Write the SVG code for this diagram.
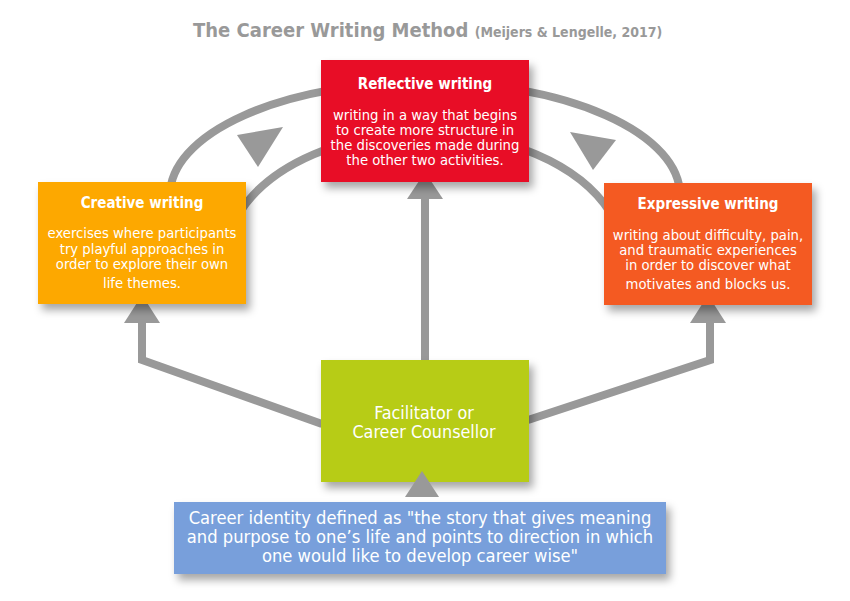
<svg xmlns="http://www.w3.org/2000/svg" width="850" height="601" viewBox="0 0 850 601">
<defs>
<filter id="sh" x="-20%" y="-20%" width="150%" height="160%">
<feDropShadow dx="4" dy="6" stdDeviation="4" flood-color="#000" flood-opacity="0.35"/>
</filter>
<style>
.ln{fill:none;stroke:#999;stroke-width:8}
.ah{fill:#999}
.t{font-family:"DejaVu Sans Condensed","DejaVu Sans",sans-serif;fill:#fff;text-anchor:middle}
.h{font-weight:bold;font-size:15px}
.b{font-size:14.7px}
.c{font-size:17.8px}
.d{font-size:18.2px}
.title{font-family:"DejaVu Sans Condensed","DejaVu Sans",sans-serif;font-weight:bold;fill:#999}
</style>
</defs>
<rect width="850" height="601" fill="#fff"/>
<text class="title" x="193" y="37" font-size="20">The Career Writing Method <tspan font-size="14">(Meijers &amp; Lengelle, 2017)</tspan></text>
<g id="connectors">
<path class="ln" d="M170,195 A255 113 0 0 1 680,195"/>
<path class="ln" d="M240,212 A200 128 0 0 1 610,212"/>
<polygon class="ah" points="237,135 283,127 258,167"/>
<polygon class="ah" points="570,132 616,140 593,170"/>
<line class="ln" x1="425" y1="362" x2="425" y2="195"/>
<polygon class="ah" points="425,172 443,199 407,199"/>
<polyline class="ln" points="322,424 142,360 142,320"/>
<polygon class="ah" points="142,295 160,323 124,323"/>
<polyline class="ln" points="528,420 710,360 710,320"/>
<polygon class="ah" points="708,295 726,323 690,323"/>
</g>
<g id="reflective">
<rect x="321" y="60" width="208" height="122" fill="#E80E25" filter="url(#sh)"/>
<text class="t h" x="425" y="89">Reflective writing</text>
<text class="t b" x="425" y="120">writing in a way that begins</text>
<text class="t b" x="425" y="135">to create more structure in</text>
<text class="t b" x="425" y="150">the discoveries made during</text>
<text class="t b" x="425" y="165">the other two activities.</text>
</g>
<g id="creative">
<rect x="38" y="182" width="208" height="122" fill="#FDA800" filter="url(#sh)"/>
<text class="t h" x="142" y="208">Creative writing</text>
<text class="t b" x="142" y="238">exercises where participants</text>
<text class="t b" x="142" y="254">try playful approaches in</text>
<text class="t b" x="142" y="269">order to explore their own</text>
<text class="t b" x="142" y="288">life themes.</text>
</g>
<g id="expressive">
<rect x="604" y="183" width="208" height="122" fill="#F45A21" filter="url(#sh)"/>
<text class="t h" x="708" y="209">Expressive writing</text>
<text class="t b" x="708" y="240">writing about difficulty, pain,</text>
<text class="t b" x="708" y="255">and traumatic experiences</text>
<text class="t b" x="708" y="270">in order to discover what</text>
<text class="t b" x="708" y="289">motivates and blocks us.</text>
</g>
<g id="facilitator">
<rect x="321" y="360" width="208" height="122" fill="#B7CC19" filter="url(#sh)"/>
<text class="t c" x="424" y="419">Facilitator or</text>
<text class="t c" x="424" y="438">Career Counsellor</text>
</g>
<polygon class="ah" points="422,471 439,497 405,497"/>
<g id="identity">
<rect x="174" y="502" width="492" height="72" fill="#789FDB" filter="url(#sh)"/>
<text class="t d" x="420" y="524">Career identity defined as "the story that gives meaning</text>
<text class="t d" x="420" y="543">and purpose to one’s life and points to direction in which</text>
<text class="t d" x="420" y="562">one would like to develop career wise"</text>
</g>
</svg>
